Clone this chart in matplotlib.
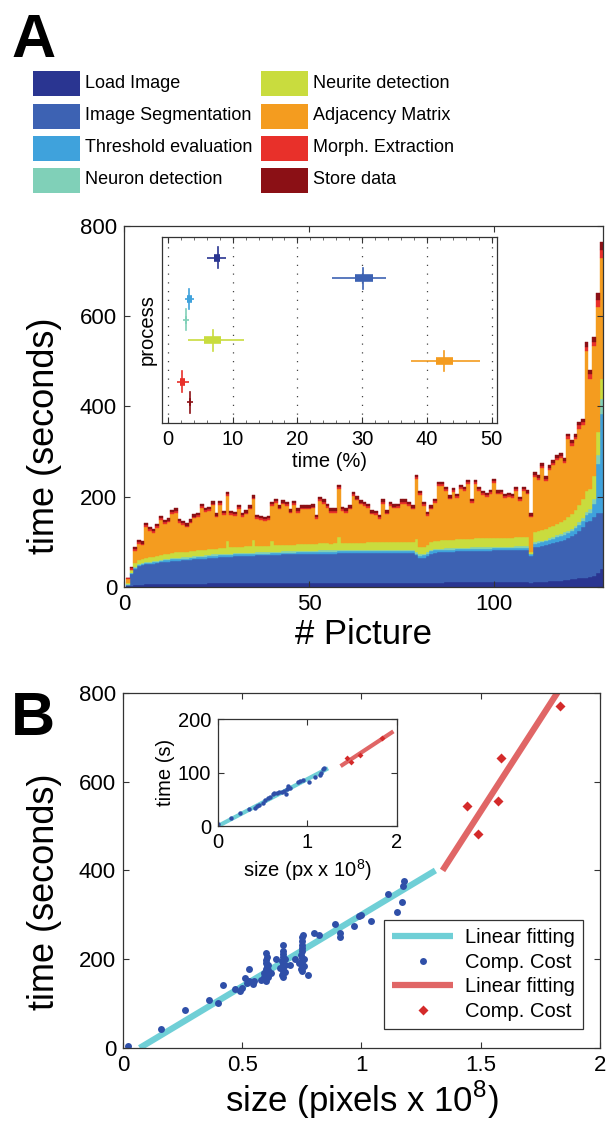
import numpy as np
import matplotlib
matplotlib.use("Agg")
import matplotlib.pyplot as plt
from matplotlib.patches import Rectangle

plt.rcParams['font.family'] = ['Liberation Sans', 'DejaVu Sans']
plt.rcParams['mathtext.fontset'] = 'custom'
plt.rcParams['mathtext.rm'] = 'Liberation Sans'

# ---------------- data: panel A ----------------
process_names = ["Load Image", "Image Segmentation", "Threshold evaluation", "Neuron detection",
                 "Neurite detection", "Adjacency Matrix", "Morph. Extraction", "Store data"]
process_colors = ["#2a3591", "#3d62b3", "#3fa2dc", "#80d0b8",
                  "#c9dc3e", "#f49c1f", "#e8302a", "#8b1015"]

total = [20, 44, 89, 104, 101, 142, 133, 129, 140, 158,
         148, 152, 171, 174, 151, 146, 141, 150, 161, 164,
         184, 176, 178, 190, 163, 191, 169, 210, 168, 167,
         182, 164, 170, 181, 203, 160, 157, 155, 157, 189,
         196, 181, 192, 189, 172, 191, 174, 181, 181, 181,
         183, 159, 200, 194, 185, 174, 174, 226, 177, 174,
         181, 211, 201, 192, 189, 185, 170, 169, 159, 194,
         170, 189, 183, 185, 194, 194, 189, 181, 248, 213,
         189, 166, 181, 196, 233, 233, 222, 203, 220, 207,
         226, 222, 237, 196, 238, 222, 213, 209, 216, 240,
         214, 216, 207, 209, 206, 222, 200, 222, 214, 163,
         255, 248, 274, 245, 270, 281, 292, 296, 285, 340,
         325, 340, 366, 373, 543, 481, 555, 651, 765]

load_image = [2, 3, 4, 5, 5, 6, 6, 6, 6, 6,
              6, 6, 7, 7, 7, 7, 7, 7, 7, 7,
              7, 7, 8, 8, 8, 8, 8, 8, 8, 8,
              8, 8, 8, 8, 8, 8, 8, 8, 8, 8,
              9, 9, 9, 9, 9, 9, 9, 9, 9, 9,
              9, 9, 9, 9, 9, 9, 9, 9, 9, 9,
              9, 9, 9, 9, 9, 9, 9, 9, 9, 9,
              9, 9, 9, 9, 9, 9, 9, 9, 8, 8,
              9, 9, 9, 9, 9, 9, 10, 10, 10, 10,
              10, 10, 10, 10, 10, 10, 10, 10, 10, 10,
              10, 10, 10, 10, 10, 10, 10, 10, 10, 9,
              11, 11, 12, 12, 13, 13, 14, 14, 15, 16,
              17, 18, 19, 20, 21, 23, 25, 30, 40]

segmentation = [2, 25, 36, 41, 43, 44, 45, 46, 47, 49,
                49, 50, 50, 51, 51, 52, 52, 53, 54, 55,
                55, 56, 56, 57, 57, 58, 58, 59, 59, 60,
                60, 60, 61, 61, 61, 62, 62, 62, 62, 63,
                62, 62, 63, 63, 63, 63, 64, 64, 64, 64,
                64, 64, 65, 65, 65, 65, 65, 66, 66, 66,
                66, 66, 66, 66, 66, 67, 67, 67, 67, 67,
                67, 67, 67, 67, 67, 67, 66, 66, 62, 57,
                56, 60, 65, 67, 68, 68, 68, 68, 68, 69,
                69, 69, 69, 70, 70, 70, 70, 70, 70, 71,
                71, 71, 71, 71, 71, 72, 72, 72, 72, 60,
                77, 78, 79, 80, 82, 84, 86, 88, 90, 92,
                95, 100, 106, 113, 122, 123, 129, 133, 123]

threshold = [1, 2, 3, 3, 3, 3, 3, 3, 3, 3,
             4, 4, 4, 4, 4, 4, 4, 4, 4, 4,
             4, 4, 4, 4, 4, 4, 4, 4, 4, 4,
             4, 4, 4, 4, 4, 4, 4, 4, 4, 4,
             4, 4, 4, 4, 4, 4, 4, 4, 4, 4,
             4, 4, 4, 4, 4, 4, 4, 4, 4, 4,
             4, 4, 4, 4, 4, 4, 4, 4, 4, 4,
             4, 4, 4, 4, 4, 4, 4, 4, 4, 4,
             5, 5, 5, 5, 5, 5, 5, 5, 5, 5,
             5, 5, 5, 5, 5, 5, 5, 5, 5, 5,
             5, 5, 5, 5, 5, 5, 5, 5, 5, 3,
             8, 8, 8, 9, 9, 9, 10, 10, 11, 11,
             12, 12, 13, 14, 16, 18, 30, 110, 221]

neuron = [1, 1, 2, 2, 2, 2, 2, 2, 2, 2,
          3, 3, 3, 3, 3, 3, 3, 3, 3, 3,
          3, 3, 3, 3, 3, 3, 3, 3, 3, 3,
          3, 3, 3, 3, 3, 3, 3, 3, 3, 3,
          3, 3, 3, 3, 3, 3, 3, 3, 3, 3,
          3, 3, 3, 3, 3, 3, 3, 3, 3, 3,
          3, 3, 3, 3, 3, 3, 3, 3, 3, 3,
          3, 3, 3, 3, 3, 3, 3, 3, 3, 3,
          3, 3, 3, 3, 3, 3, 3, 3, 3, 3,
          3, 3, 3, 3, 3, 3, 3, 3, 3, 3,
          3, 3, 3, 3, 3, 3, 3, 3, 3, 1,
          4, 4, 4, 4, 4, 5, 5, 5, 5, 5,
          5, 5, 6, 6, 8, 9, 12, 20, 32]

neurite = [2, 6, 8, 9, 9, 10, 10, 10, 10, 10,
           11, 11, 11, 12, 12, 12, 12, 12, 12, 12,
           13, 13, 13, 13, 13, 14, 14, 27, 14, 13,
           13, 13, 14, 14, 28, 14, 14, 13, 13, 25,
           15, 15, 15, 15, 15, 15, 15, 15, 15, 15,
           15, 15, 16, 16, 16, 15, 16, 28, 16, 16,
           16, 16, 16, 16, 16, 16, 16, 16, 16, 16,
           17, 17, 17, 17, 17, 17, 17, 17, 29, 17,
           16, 16, 17, 18, 18, 19, 19, 19, 19, 19,
           19, 19, 20, 19, 20, 20, 20, 20, 20, 20,
           20, 20, 20, 20, 20, 21, 20, 21, 21, 4,
           22, 22, 23, 23, 24, 24, 25, 26, 27, 30,
           32, 35, 38, 42, 46, 45, 50, 50, 46]

morph = [1, 3] + [4] * 108 + [5] * 10 + [6, 6, 7, 7, 10, 9, 10, 14, 17]
store = [1, 3] + [5] * 108 + [6] * 10 + [7, 7, 8, 8, 11, 10, 11, 16, 18]

# inset: time share (%) per process: whisker low, box low, median, box high, whisker high
share_lo = [6.1, 25.4, 2.6, 2.4, 3.1, 37.5, 1.4, 3.0]
share_q1 = [7.2, 28.9, 3.0, 2.6, 5.6, 41.4, 1.8, 3.2]
share_med = [7.7, 30.1, 3.3, 2.8, 6.9, 42.6, 2.2, 3.4]
share_q3 = [8.1, 31.6, 3.7, 3.0, 8.2, 44.0, 2.6, 3.6]
share_hi = [9.0, 33.6, 4.1, 3.3, 11.8, 48.2, 3.3, 3.9]

# ---------------- data: panel B ----------------
blue_x = [0.02, 0.16, 0.26, 0.36, 0.40, 0.42, 0.47, 0.49, 0.50, 0.51, 0.52, 0.53, 0.53, 0.545, 0.55,
          0.58, 0.59, 0.59,
          0.60, 0.60, 0.60, 0.60, 0.60, 0.605, 0.60, 0.60, 0.605, 0.60, 0.61, 0.61, 0.61, 0.595,
          0.62, 0.64,
          0.67, 0.67, 0.67, 0.67, 0.67, 0.665, 0.67, 0.67, 0.67, 0.67, 0.68, 0.68, 0.68, 0.66, 0.665,
          0.70, 0.72,
          0.75, 0.75, 0.75, 0.75, 0.75, 0.745, 0.75, 0.75, 0.75, 0.75, 0.75, 0.755, 0.76, 0.76, 0.74, 0.745,
          0.776, 0.80, 0.82, 0.89, 0.91, 0.91, 0.97, 0.99, 1.00, 1.04, 1.11, 1.15, 1.17, 1.175, 1.18]
blue_y = [4, 43, 86, 107, 101, 143, 133, 128, 135, 158, 147, 177, 150, 145, 152,
          154, 160, 169,
          150, 158, 164, 171, 178, 185, 192, 199, 206, 213, 160, 175, 188, 155,
          170, 200,
          161, 168, 176, 183, 190, 197, 204, 211, 219, 233, 172, 186, 200, 180, 165,
          188, 200,
          173, 181, 189, 196, 203, 210, 218, 226, 233, 241, 249, 255, 185, 200, 192, 178,
          165, 259, 255, 279, 259, 250, 274, 297, 300, 287, 346, 307, 328, 364, 376]
red_x = [1.444, 1.49, 1.574, 1.587, 1.832]
red_y = [546, 482, 556, 654, 770]
fit_blue_x = [0.07, 1.31]
fit_blue_y = [0, 400]
fit_red_x = [1.34, 1.84]
fit_red_y = [400, 816]

inset_blue_x = [0.0, 0.14, 0.25, 0.35, 0.41, 0.44, 0.46, 0.50, 0.53, 0.56, 0.58, 0.61, 0.63, 0.665, 0.68,
                0.72, 0.74, 0.76, 0.77, 0.78, 0.80, 0.89, 0.92, 0.95, 1.02, 1.08, 1.135, 1.15, 1.17, 1.19]
inset_blue_y = [3, 15, 25, 31, 34, 37, 40, 44, 49, 52, 55, 59, 61, 62, 64,
                63, 65, 59, 70, 74, 72, 83, 85, 86, 83, 92, 96, 100, 106, 108]
inset_red_x = [1.447, 1.485, 1.586, 1.83]
inset_red_y = [128, 120, 133, 165]
inset_fit_blue_x = [0.0, 1.23]
inset_fit_blue_y = [0, 108]
inset_fit_red_x = [1.37, 1.96]
inset_fit_red_y = [112, 177]

cyan = "#6fcfd6"
salmon = "#e06666"
dot_blue = "#2f4fa8"
dia_red = "#d42a2a"

# ---------------- figure ----------------
fig = plt.figure(figsize=(6.07, 11.26), dpi=100)


def matlab_box(ax, size):
    ax.tick_params(direction='in', top=True, right=True, labelsize=size, length=4,
                   width=0.8, color='#333333', pad=5)
    for s in ax.spines.values():
        s.set_color('#333333')
        s.set_linewidth(0.9)


# panel A main
axA = fig.add_axes([0.2043, 0.4787, 0.789, 0.3206])
pics = np.arange(1, len(total) + 1)
others = [load_image, segmentation, threshold, neuron, neurite, None, morph, store]
adjacency = np.array(total) - sum(np.array(a) for a in others if a is not None)
others[5] = adjacency
bottom = np.zeros(len(total))
for comp, col in zip(others, process_colors):
    comp = np.array(comp, dtype=float)
    axA.bar(pics, comp, bottom=bottom, width=1.0, color=col, edgecolor=col, linewidth=0.3)
    bottom += comp
axA.set_xlim(0, 129.4)
axA.set_ylim(0, 800)
axA.set_xticks([0, 50, 100])
axA.set_yticks([0, 200, 400, 600, 800])
matlab_box(axA, 16)
axA.set_xlabel("# Picture", fontsize=25, labelpad=2)
axA.set_ylabel("time (seconds)", fontsize=26)
axA.yaxis.set_label_coords(-0.129, 0.42)

# panel A inset
axI = fig.add_axes([0.2669, 0.6243, 0.5519, 0.1652])
ypos = np.arange(len(process_names), 0, -1)
for i, col in enumerate(process_colors):
    y = ypos[i]
    axI.plot([share_lo[i], share_hi[i]], [y, y], color=col, lw=1.2, solid_capstyle='butt')
    axI.plot([share_q1[i], share_q3[i]], [y, y], color=col, lw=5.5, solid_capstyle='butt')
    axI.plot([share_med[i], share_med[i]], [y - 0.5, y + 0.5], color=col, lw=1.2)
axI.set_xlim(-0.9, 50.8)
axI.set_ylim(0, 9)
axI.set_xticks([0, 10, 20, 30, 40, 50])
axI.set_xticks(np.arange(0, 51, 2), minor=True)
axI.set_yticks([])
axI.grid(axis='x', linestyle=(0, (1, 6)), color='#444444', lw=0.9)
matlab_box(axI, 14.5)
axI.tick_params(which='minor', direction='in', top=True, length=2, color='#555555')
axI.set_xlabel("time (%)", fontsize=14.5, labelpad=2)
axI.set_ylabel("process", fontsize=14.5, labelpad=4)

# legend of panel A
row_y = [83, 116, 148, 180]
for i, (name, col) in enumerate(zip(process_names, process_colors)):
    col_i, row_i = divmod(i, 4)
    px = 33 if col_i == 0 else 261
    yc = row_y[row_i]
    fig.add_artist(Rectangle((px / 607, 1 - (yc + 12.5) / 1126), 47 / 607, 25 / 1126,
                             transform=fig.transFigure, facecolor=col, edgecolor='none'))
    fig.text((px + 52) / 607, 1 - yc / 1126, name, fontsize=13, va='center', ha='left')

fig.text(11 / 607, 1 - 57 / 1126, "A", fontsize=44, fontweight='bold', va='baseline')
fig.text(11 / 607, 1 - 735 / 1126, "B", fontsize=44, fontweight='bold', va='baseline')

# panel B main
axB = fig.add_axes([0.2026, 0.0693, 0.7858, 0.3153])
axB.plot(fit_blue_x, fit_blue_y, color=cyan, lw=4.5, solid_capstyle='butt', label="Linear fitting")
axB.plot(blue_x, blue_y, 'o', color=dot_blue, ms=5, mec='none', label="Comp. Cost")
axB.plot(fit_red_x, fit_red_y, color=salmon, lw=4.5, solid_capstyle='butt', label="Linear fitting")
axB.plot(red_x, red_y, 'D', color=dia_red, ms=5.5, mec='none', label="Comp. Cost")
axB.set_xlim(0, 2)
axB.set_ylim(0, 800)
axB.set_xticks([0, 0.5, 1, 1.5, 2])
axB.set_xticklabels(["0", "0.5", "1", "1.5", "2"])
axB.set_yticks([0, 200, 400, 600, 800])
matlab_box(axB, 16)
axB.set_xlabel(r"size (pixels x 10$^{8}$)", fontsize=25, labelpad=2)
axB.set_ylabel("time (seconds)", fontsize=26)
axB.yaxis.set_label_coords(-0.128, 0.44)
leg = axB.legend(loc='lower right', bbox_to_anchor=(0.985, 0.025), fontsize=14.5,
                 handlelength=3.0, handletextpad=0.6, labelspacing=0.28, borderpad=0.4,
                 fancybox=False, edgecolor='#333333', framealpha=1)
leg.get_frame().set_linewidth(0.9)

# panel B inset
axJ = fig.add_axes([0.3591, 0.2664, 0.2949, 0.0950])
axJ.plot(inset_fit_blue_x, inset_fit_blue_y, color=cyan, lw=3, solid_capstyle='butt')
axJ.plot(inset_blue_x, inset_blue_y, 'o', color=dot_blue, ms=3.2, mec='none')
axJ.plot(inset_fit_red_x, inset_fit_red_y, color=salmon, lw=3, solid_capstyle='butt')
axJ.plot(inset_red_x, inset_red_y, 'D', color=dia_red, ms=3, mec='none')
axJ.set_xlim(0, 2)
axJ.set_ylim(0, 200)
axJ.set_xticks([0, 1, 2])
axJ.set_yticks([0, 100, 200])
matlab_box(axJ, 14.5)
axJ.set_xlabel(r"size (px x 10$^{8}$)", fontsize=14.5, labelpad=4)
axJ.set_ylabel("time (s)", fontsize=14.5, labelpad=2)

fig.savefig("out.png", dpi=100, facecolor='white')
